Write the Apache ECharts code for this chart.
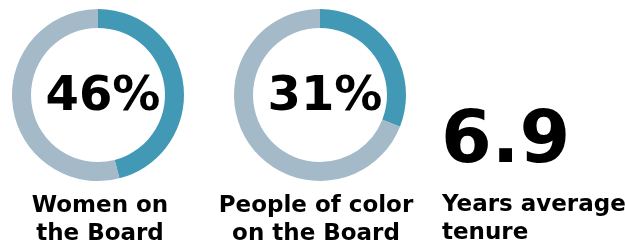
<!DOCTYPE html>
<html>
<head>
<meta charset="utf-8">
<script src="https://cdn.jsdelivr.net/npm/echarts@6/dist/echarts.min.js"></script>
<style>
  html, body { margin: 0; padding: 0; background: #fff; }
  #chart { width: 625px; height: 243px; }
</style>
</head>
<body>
<div id="chart"></div>
<script>
// 两个环形图的数据
const donutNames = ['women', 'poc'];
const donutValues = [46, 31];
const donutLabels = ['Women on\nthe Board', 'People of color\non the Board'];
// 任期数字
const tenureValue = 6.9;
const tenureLabel = 'Years average\ntenure';

const darkColor = '#4299b6';
const lightColor = '#a4bac8';
const fontName = 'DejaVu Sans';

const chart = echarts.init(document.getElementById('chart'));

const centers = [[98, 95], [320, 95]];
const labelX = [95, 311];

const series = donutValues.map((v, i) => {
    return {
        name: donutNames[i],
        type: 'pie',
        center: centers[i],
        radius: [67, 86],
        startAngle: 90,
        clockwise: true,
        silent: true,
        label: { show: false },
        labelLine: { show: false },
        data: [
            { value: v, itemStyle: { color: darkColor } },
            { value: 100 - v, itemStyle: { color: lightColor } }
        ]
    };
});

const titles = [];
donutValues.forEach((v, i) => {
    // 环中间的百分比
    titles.push({
        text: v + '%',
        left: centers[i][0],
        top: centers[i][1] - 26,
        textAlign: 'center',
        textStyle: { fontFamily: fontName, fontWeight: 'bold', fontSize: 48, color: '#000' }
    });
    // 下方说明文字
    titles.push({
        text: donutLabels[i],
        left: labelX[i],
        top: 187,
        textAlign: 'center',
        textStyle: { fontFamily: fontName, fontWeight: 'bold', fontSize: 23, lineHeight: 28, color: '#000', align: 'center' }
    });
});
titles.push({
    text: String(tenureValue),
    left: 436,
    top: 102,
    textStyle: { fontFamily: fontName, fontWeight: 'bold', fontSize: 73, color: '#000' }
});
titles.push({
    text: tenureLabel,
    left: 437,
    top: 186,
    textStyle: { fontFamily: fontName, fontWeight: 'bold', fontSize: 23, lineHeight: 28, color: '#000' }
});

chart.setOption({
    animation: false,
    title: titles,
    series: series
});
</script>
</body>
</html>
